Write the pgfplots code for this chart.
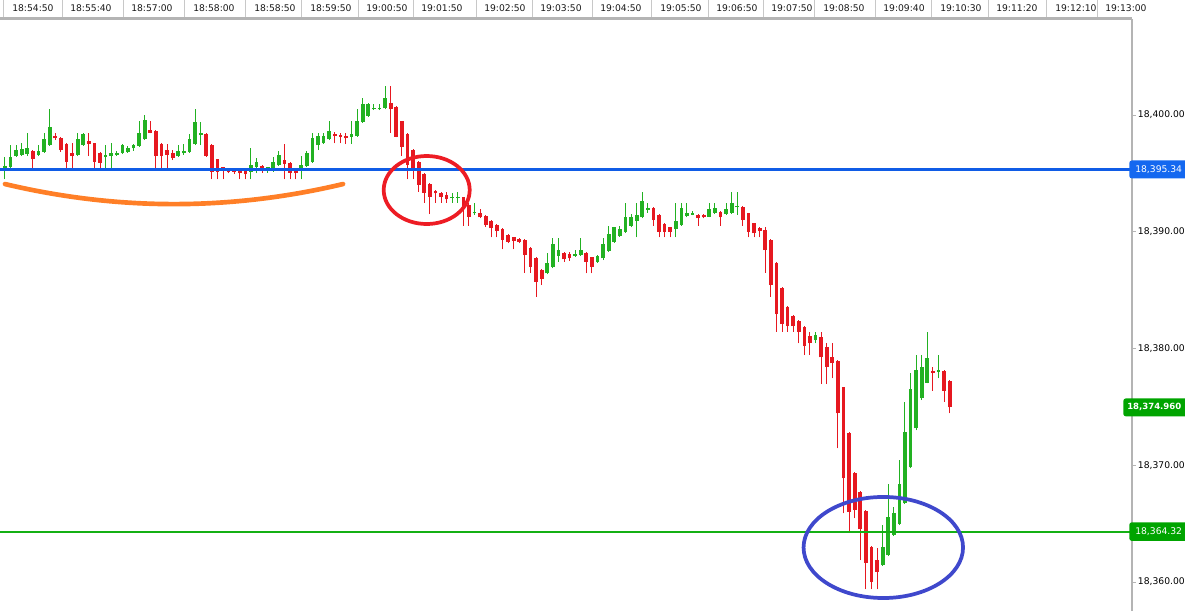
\documentclass[border=0pt]{standalone}
\usepackage{fontspec}
\setmainfont{DejaVu Sans}
\usepackage{pgfplots}
\usepackage{pgfplotstable}
\pgfplotsset{compat=1.18}

\definecolor{candleup}{RGB}{34,177,34}
\definecolor{candledown}{RGB}{230,24,32}
\definecolor{supportblue}{RGB}{16,92,230}
\definecolor{tagblue}{RGB}{20,104,240}
\definecolor{levelgreen}{RGB}{20,176,20}
\definecolor{taggreen}{RGB}{0,164,0}
\definecolor{frame}{RGB}{180,180,180}
\definecolor{sep}{RGB}{200,200,200}
\definecolor{inkorange}{RGB}{255,127,39}
\definecolor{inkred}{RGB}{237,28,36}
\definecolor{inkblue}{RGB}{63,72,204}

\newcommand\axfont{\fontsize{6.9}{8}\selectfont}

% candle index, open, high, low, close
\pgfplotstableread{
i o h l c
1 18395.35 18396.43 18394.49 18395.63
2 18395.52 18397.43 18395.43 18396.43
3 18396.49 18397.43 18396.43 18397.00
4 18396.58 18397.58 18396.49 18397.06
5 18396.66 18398.49 18396.49 18397.15
7 18396.58 18397.43 18396.49 18396.95
8 18396.86 18398.49 18396.78 18397.92
9 18397.43 18400.49 18397.35 18398.95
14 18396.58 18398.43 18396.49 18397.92
15 18397.43 18398.49 18397.35 18398.37
19 18396.38 18397.43 18395.43 18396.58
20 18396.49 18397.58 18395.43 18396.78
21 18396.58 18396.95 18396.49 18396.78
22 18396.78 18397.52 18396.66 18397.43
23 18396.86 18397.35 18396.78 18397.15
24 18397.15 18397.52 18396.95 18397.43
25 18397.35 18399.52 18397.29 18398.49
26 18397.92 18400.00 18397.86 18399.57
32 18396.49 18397.43 18396.43 18396.95
33 18396.72 18397.52 18396.58 18396.95
34 18396.86 18398.37 18396.78 18397.92
35 18397.52 18400.49 18397.43 18399.43
36 18398.29 18399.43 18397.43 18398.49
45 18395.15 18397.15 18394.49 18395.72
46 18395.52 18396.29 18395.01 18396.01
48 18395.41 18395.52 18395.06 18395.52
49 18395.43 18396.38 18395.15 18396.01
50 18395.72 18396.95 18395.63 18396.58
54 18395.29 18396.49 18394.49 18395.72
55 18395.63 18396.95 18395.52 18396.72
56 18396.01 18398.49 18395.92 18398.00
57 18397.43 18398.49 18397.00 18398.20
58 18397.58 18398.43 18397.52 18398.20
59 18397.92 18399.52 18397.86 18398.66
63 18398.15 18399.52 18397.52 18398.37
64 18398.20 18400.49 18398.15 18399.52
65 18399.43 18401.43 18399.35 18400.94
66 18399.92 18401.06 18399.86 18400.94
67 18400.49 18400.94 18400.43 18400.57
68 18400.49 18400.94 18400.43 18400.57
69 18400.57 18402.49 18400.49 18401.43
81 18392.89 18393.35 18392.49 18393.01
82 18392.89 18393.44 18392.49 18393.01
85 18391.58 18392.44 18391.44 18391.69
98 18386.44 18388.15 18386.36 18387.35
99 18387.01 18389.44 18386.87 18388.95
100 18387.93 18389.44 18387.44 18388.44
103 18387.93 18388.44 18387.87 18388.10
104 18388.01 18389.44 18387.93 18388.44
107 18387.44 18388.01 18387.35 18387.93
108 18387.73 18389.44 18387.58 18388.95
109 18388.38 18390.50 18388.30 18389.81
110 18389.15 18390.44 18389.07 18390.38
111 18389.64 18390.50 18389.58 18390.21
112 18390.01 18392.44 18389.92 18391.24
113 18390.50 18391.52 18390.38 18391.24
114 18390.95 18392.44 18389.52 18391.44
115 18391.24 18393.44 18391.15 18392.66
116 18391.87 18392.44 18391.64 18392.01
121 18390.21 18392.44 18389.52 18390.95
122 18390.58 18392.44 18390.50 18392.01
123 18391.35 18392.44 18391.24 18391.64
124 18391.47 18391.81 18391.41 18391.58
127 18391.29 18392.44 18391.24 18391.92
128 18391.64 18392.44 18391.52 18392.01
130 18391.52 18392.44 18391.44 18391.92
131 18391.64 18393.44 18391.52 18392.44
132 18392.09 18393.44 18391.44 18392.21
146 18380.73 18381.44 18380.44 18381.15
158 18361.46 18364.88 18361.37 18363.02
159 18362.31 18368.39 18362.23 18365.59
160 18364.02 18366.39 18363.94 18365.88
161 18364.97 18370.45 18364.88 18368.39
162 18366.74 18375.44 18366.68 18372.87
163 18369.82 18377.93 18369.73 18376.50
164 18373.16 18379.44 18373.00 18378.16
165 18375.73 18379.44 18375.59 18378.39
166 18377.07 18381.44 18377.02 18379.16
168 18378.02 18379.44 18377.45 18378.16
}\upcandles

\pgfplotstableread{
i o h l c
6 18396.95 18397.00 18395.43 18396.21
10 18398.20 18398.49 18397.86 18398.00
11 18398.00 18398.09 18396.86 18397.00
12 18397.52 18397.58 18395.43 18396.01
13 18396.78 18397.58 18395.43 18396.49
16 18397.75 18398.43 18396.49 18397.52
17 18397.58 18397.63 18395.43 18396.01
18 18396.78 18396.86 18395.43 18395.92
27 18398.72 18399.52 18398.43 18398.49
28 18398.66 18398.72 18395.43 18396.49
29 18397.52 18397.58 18395.43 18396.49
30 18397.00 18397.52 18395.43 18396.58
31 18396.78 18397.00 18396.15 18396.29
37 18398.37 18398.43 18396.43 18396.49
38 18397.43 18397.52 18394.49 18395.15
39 18396.21 18396.21 18394.49 18395.15
40 18395.52 18395.52 18394.49 18395.23
41 18395.23 18395.29 18395.01 18395.12
42 18395.23 18395.29 18394.95 18395.15
43 18395.23 18395.29 18394.49 18395.01
44 18395.23 18395.29 18394.49 18394.95
47 18395.63 18395.72 18395.06 18395.43
51 18396.15 18397.52 18394.49 18395.81
52 18395.92 18396.01 18394.49 18395.06
53 18395.23 18395.29 18394.49 18395.06
60 18398.37 18398.57 18397.58 18398.20
61 18398.29 18398.49 18397.58 18398.15
62 18398.20 18398.49 18397.52 18398.00
70 18401.00 18402.49 18398.49 18400.49
71 18400.72 18400.77 18398.09 18398.15
72 18399.49 18399.52 18396.49 18397.29
73 18398.37 18398.43 18394.49 18395.72
74 18397.00 18397.06 18394.49 18395.29
75 18396.01 18396.09 18393.44 18394.01
76 18394.95 18395.01 18392.49 18393.35
77 18394.09 18394.15 18391.52 18393.01
78 18393.49 18393.58 18392.49 18393.29
79 18393.29 18393.44 18392.49 18393.01
80 18393.15 18393.44 18392.49 18392.78
83 18392.95 18393.01 18390.50 18392.15
84 18392.29 18392.44 18390.50 18391.29
86 18391.64 18391.92 18391.15 18391.24
87 18391.35 18391.44 18390.44 18390.58
88 18390.95 18391.01 18389.52 18390.30
89 18390.58 18390.67 18389.52 18390.10
90 18390.27 18390.30 18388.50 18389.30
91 18389.72 18389.81 18389.01 18389.15
92 18389.52 18389.58 18388.50 18389.24
93 18389.35 18389.44 18389.01 18389.15
94 18389.30 18389.35 18386.50 18388.01
95 18388.58 18388.67 18386.50 18387.01
96 18387.73 18387.81 18384.44 18385.73
97 18386.73 18386.78 18385.44 18385.93
101 18388.21 18388.30 18387.44 18387.64
102 18388.10 18388.30 18387.53 18387.73
105 18388.21 18388.30 18386.44 18387.44
106 18387.81 18387.87 18386.44 18387.01
117 18392.01 18392.09 18390.50 18391.01
118 18391.44 18391.52 18389.52 18390.01
119 18390.67 18390.72 18389.52 18390.01
120 18390.38 18390.44 18389.52 18390.01
125 18391.44 18391.52 18390.50 18391.15
126 18391.44 18391.52 18391.15 18391.24
129 18391.72 18391.81 18390.50 18391.24
133 18392.15 18392.21 18390.50 18391.01
134 18391.58 18391.64 18389.52 18390.01
135 18390.72 18390.78 18389.52 18389.87
136 18390.30 18390.44 18389.52 18390.10
137 18390.15 18390.44 18386.50 18388.44
138 18389.29 18389.35 18384.44 18385.44
139 18387.35 18387.44 18381.44 18382.95
140 18385.15 18385.24 18381.44 18382.10
141 18383.58 18383.64 18381.44 18381.93
142 18382.78 18382.87 18381.44 18381.93
143 18382.38 18382.44 18380.44 18381.44
144 18381.87 18381.93 18379.44 18380.21
145 18381.07 18381.44 18379.44 18380.44
147 18380.95 18381.44 18376.96 18379.24
148 18380.10 18380.44 18376.96 18378.44
149 18379.24 18380.44 18377.44 18378.73
150 18378.96 18379.01 18371.45 18374.44
151 18376.67 18376.75 18365.88 18368.88
152 18372.79 18372.87 18364.40 18366.02
153 18369.36 18369.45 18365.45 18366.17
154 18367.74 18367.82 18361.88 18364.51
155 18366.11 18366.17 18359.37 18361.65
156 18363.02 18363.08 18359.37 18360.03
157 18361.88 18362.88 18359.37 18360.88
167 18378.10 18378.39 18376.39 18377.93
169 18378.10 18378.16 18375.44 18376.39
170 18377.24 18377.30 18374.45 18374.96
}\downcandles

\begin{document}
\begin{tikzpicture}
\useasboundingbox (0pt,0pt) rectangle (888.75pt,-458.25pt);
\begin{axis}[
  at={(0pt,-13.875pt)}, anchor=north west,
  width=849pt, height=444.375pt, scale only axis,
  xmin=0.106, xmax=202.61,
  ymin=18357.52, ymax=18408.27,
  axis x line*=top, axis y line*=right,
  x axis line style={draw=frame, line width=2.25pt},
  y axis line style={draw=frame, line width=1.5pt},
  tick align=outside,
  xtick={0.82,11.20,22.11,33.20,44.11,54.13,64.15,73.99,85.26,95.28,106.01,116.74,126.76,136.60,145.90,156.64,166.83,176.85,187.40,196.35},
  xticklabels={18:54:50,18:55:40,18:57:00,18:58:00,18:58:50,18:59:50,19:00:50,19:01:50,19:02:50,19:03:50,19:04:50,19:05:50,19:06:50,19:07:50,19:08:50,19:09:40,19:10:30,19:11:20,19:12:10,19:13:00},
  xtick style={draw=sep, line width=0.75pt, /pgfplots/major tick length=13.875pt},
  xticklabel style={anchor=base west, inner sep=0pt, xshift=6pt, yshift=1pt, font=\axfont, text=black!90},
  ytick={18360,18370,18380,18390,18400},
  ytick style={draw=frame, line width=0.75pt, /pgfplots/major tick length=3pt},
  yticklabel style={anchor=west, inner sep=0pt, font=\axfont, text=black,
    /pgf/number format/.cd, fixed, fixed zerofill, precision=2, 1000 sep={,}, assume math mode=true},
  scaled y ticks=false,
  clip mode=individual,
  candle/.style={draw=none, mark=none, forget plot,
    error bars/.cd, y dir=plus, y explicit, error mark=none,
    error bar style={draw=#1}},
]
% wicks
\addplot[candle={candleup, line width=0.75pt}]
  table[x=i, y=l, y error expr=\thisrow{h}-\thisrow{l}] {\upcandles};
\addplot[candle={candledown, line width=0.75pt}]
  table[x=i, y=l, y error expr=\thisrow{h}-\thisrow{l}] {\downcandles};
% bodies
\addplot[candle={candleup, line width=2.8pt}]
  table[x=i, y=o, y error expr=\thisrow{c}-\thisrow{o}] {\upcandles};
\addplot[candle={candledown, line width=2.8pt}]
  table[x=i, y=c, y error expr=\thisrow{o}-\thisrow{c}] {\downcandles};

% horizontal levels
\addplot[supportblue, line width=2.25pt, forget plot] coordinates {(0.106,18395.34) (202.61,18395.34)};
\addplot[levelgreen, line width=1.5pt, forget plot] coordinates {(0.106,18364.32) (202.61,18364.32)};

% hand-drawn marks
\draw[inkorange, line width=3.5pt, line cap=round]
  (axis cs:1,18394.09) .. controls (axis cs:21.16,18391.80) and (axis cs:41.30,18391.80) .. (axis cs:61.47,18394.09);
\draw[inkred, line width=2.8pt] (axis cs:76.44,18393.58) ellipse [x radius=32.25pt, y radius=25.5pt];
\draw[inkblue, line width=2.8pt] (axis cs:158.12,18362.96) ellipse [x radius=59.8pt, y radius=37.9pt];

% price tags
\node[anchor=west, fill=tagblue, text=white, rounded corners=2pt, inner xsep=4.5pt, inner ysep=0pt,
  minimum height=13.5pt, text width=50pt, font=\axfont, xshift=-2.25pt]
  at (axis cs:202.61,18395.34) {18,395.34};
\node[anchor=west, fill=taggreen, text=white, rounded corners=2pt, inner xsep=3pt, inner ysep=0pt,
  minimum height=13.5pt, text width=50pt, font=\fontsize{6.4}{8}\selectfont\bfseries, xshift=-6.75pt]
  at (axis cs:202.61,18374.96) {18,374.960};
\node[anchor=west, fill=taggreen, text=white, rounded corners=2pt, inner xsep=4.5pt, inner ysep=0pt,
  minimum height=14pt, text width=50pt, font=\axfont, xshift=-2.25pt]
  at (axis cs:202.61,18364.32) {18,364.32};
\end{axis}
\end{tikzpicture}
\end{document}
